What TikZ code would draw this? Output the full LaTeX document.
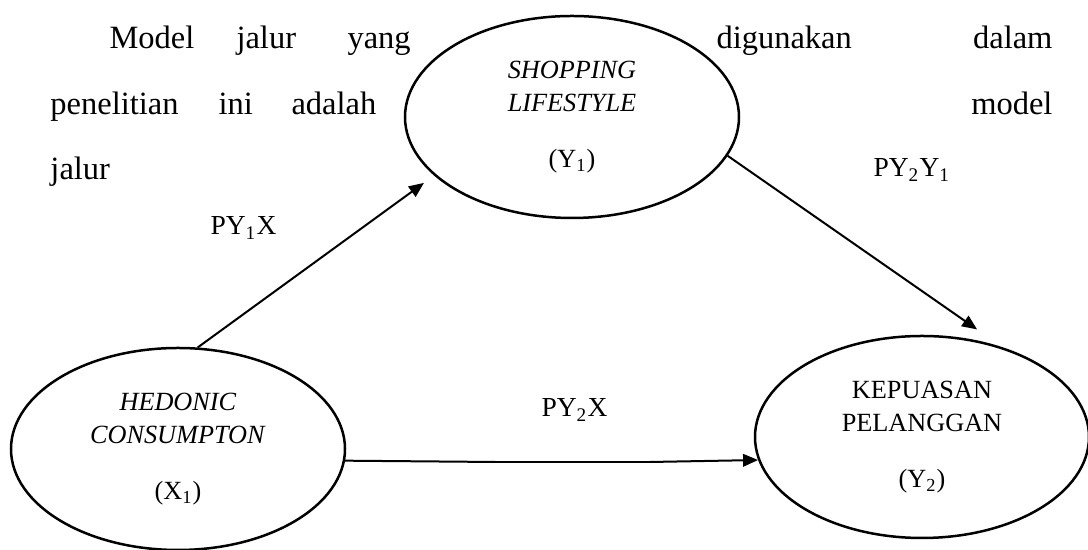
\documentclass[tikz,border=0pt]{standalone}
\usepackage{fontspec}
\setmainfont{Liberation Serif}
\usetikzlibrary{arrows.meta,shapes.geometric,positioning}

\begin{document}
\begin{tikzpicture}[x=0.4pt,y=-0.4pt,>={Triangle[length=6pt,width=5pt]}]

  \tikzstyle{var}=[ellipse,draw=black,line width=1pt,fill=white,
                   minimum width=133.6pt,minimum height=80.8pt,inner sep=0pt,
                   align=center,font=\fontsize{10.5}{13.2}\selectfont]
  \tikzstyle{link}=[line width=0.8pt]
  \tikzstyle{word}=[anchor=base west,inner sep=0pt,font=\fontsize{13}{15}\selectfont]
  \tikzstyle{coef}=[anchor=base west,inner sep=0pt,font=\fontsize{11}{13}\selectfont]

  \useasboundingbox (0,0) rectangle (1088,550);

  %paragraph around the top variable
  \node [word] (t11) at (109,49) {Model};
  \node [word] (t12) at (236,49) {jalur};
  \node [word] (t13) at (347,49) {yang};
  \node [word] (t14) at (716,49) {digunakan};
  \node [word,anchor=base east] (t15) at (1053,49) {dalam};
  \node [word] (t21) at (50,115) {penelitian};
  \node [word] (t22) at (218,115) {ini};
  \node [word] (t23) at (291,115) {adalah};
  \node [word,anchor=base east] (t24) at (1053,115) {model};
  \node [word] (t31) at (50,180) {jalur};

  %variables
  \node [var] (sl) at (572,117) {\textit{SHOPPING}\\\textit{LIFESTYLE}\\[9pt](Y\textsubscript{1})};
  \node [var] (hc) at (178,449) {\textit{HEDONIC}\\\textit{CONSUMPTON}\\[9pt](X\textsubscript{1})};
  \node [var] (kp) at (922,437) {KEPUASAN\\PELANGGAN\\[9pt](Y\textsubscript{2})};

  %paths
  \draw [link,->,shorten >=5pt] (hc.79) -- (sl.203);
  \draw [link,->,shorten >=12.5pt] (sl.-14.4) -- (kp.48.4);

  \coordinate (cutA) at (495,462);
  \coordinate (cutB) at (650,462);
  \draw [link] (hc.-4.5) -- (cutA);
  \draw [line width=0.5pt] (cutA) -- (cutB);
  \draw [link,->] (cutB) -- (kp.188.8);

  %path coefficients
  \node [coef] (c1) at (210,235) {PY\textsubscript{1}X};
  \node [coef] (c2) at (873,177) {PY\textsubscript{2}Y\textsubscript{1}};
  \node [coef] (c3) at (541,417) {PY\textsubscript{2}X};

\end{tikzpicture}
\end{document}
